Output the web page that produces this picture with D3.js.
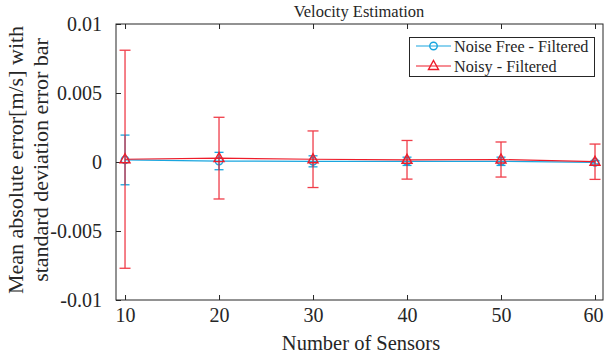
<!DOCTYPE html>
<html>
<head>
<meta charset="utf-8">
<script src="https://cdn.jsdelivr.net/npm/d3@7"></script>
<style>
  html, body { margin: 0; padding: 0; background: #fff; }
  svg text { font-family: "Liberation Serif", "Times New Roman", serif; }
</style>
</head>
<body>
<svg id="chart" width="604" height="358"></svg>
<script>
// Number of sensors on the x axis
const sensors = [10, 20, 30, 40, 50, 60];
// Noise-free, filtered: mean absolute error and standard deviation [m/s]
const noiseFreeMean = [0.00015, 0.00007, 0.00005, 0.00005, 0.00005, -0.00002];
const noiseFreeStd  = [0.0018, 0.00063, 0.0004, 0.0003, 0.0003, 0.00012];
// Noisy, filtered: mean absolute error and standard deviation [m/s]
const noisyMean = [0.0002, 0.00028, 0.0002, 0.00016, 0.00018, 0.00002];
const noisyStd  = [0.0079, 0.00296, 0.00205, 0.0014, 0.00127, 0.00128];
// Axis ticks
const xTicks = [10, 20, 30, 40, 50, 60];
const yTicks = [-0.01, -0.005, 0, 0.005, 0.01];
const yTickLabels = ["-0.01", "-0.005", "0", "0.005", "0.01"];

const blue = "#1aa6df";
const red = "#ee1c2a";
const ink = "#262626";
const serif = "'Liberation Serif', 'Times New Roman', serif";

const svg = d3.select("#chart");
const plotLeft = 116, plotRight = 603, plotTop = 24, plotBottom = 300;

const x = d3.scaleLinear().domain([9.04, 60.85]).range([plotLeft, plotRight]);
const y = d3.scaleLinear().domain([-0.01, 0.01]).range([plotBottom, plotTop]);

// Axis box
svg.append("rect").attr("x", plotLeft).attr("y", plotTop)
  .attr("width", plotRight - plotLeft).attr("height", plotBottom - plotTop)
  .attr("fill", "none").attr("stroke", ink).attr("stroke-width", 1);

// Bottom axis with inward ticks, top mirror ticks
const xAxis = svg.append("g").attr("transform", `translate(0,${plotBottom})`)
  .call(d3.axisBottom(x).tickValues(xTicks).tickSizeInner(-5).tickSizeOuter(0).tickPadding(8));
const xAxisTop = svg.append("g").attr("transform", `translate(0,${plotTop})`)
  .call(d3.axisTop(x).tickValues(xTicks).tickSizeInner(-5).tickSizeOuter(0).tickFormat(""));
const yAxis = svg.append("g").attr("transform", `translate(${plotLeft},0)`)
  .call(d3.axisLeft(y).tickValues(yTicks).tickSizeInner(-5).tickSizeOuter(0).tickPadding(14)
    .tickFormat((d, i) => yTickLabels[i]));
[xAxis, xAxisTop, yAxis].forEach(g => {
  g.attr("font-family", serif).attr("font-size", 20);
  g.select(".domain").remove();
  g.selectAll(".tick line").attr("stroke", ink);
  g.selectAll("text").attr("fill", ink);
});
// Keep the last x tick label inside the frame
xAxis.selectAll(".tick text").filter(d => d === 60).attr("text-anchor", "end").attr("dx", "8");

// Title and axis labels
svg.append("text").attr("x", 359).attr("y", 17)
  .attr("text-anchor", "middle").attr("fill", ink)
  .attr("font-family", serif).attr("font-size", 16.5).text("Velocity Estimation");
svg.append("text").attr("x", 361).attr("y", 350)
  .attr("text-anchor", "middle").attr("fill", ink)
  .attr("font-family", serif).attr("font-size", 20.5).text("Number of Sensors");
const yl = svg.append("text").attr("transform", `translate(23,160) rotate(-90)`)
  .attr("text-anchor", "middle").attr("fill", ink)
  .attr("font-family", serif).attr("font-size", 22);
yl.append("tspan").attr("x", 0).attr("dy", 0).text("Mean absolute error[m/s] with");
yl.append("tspan").attr("x", 0).attr("dy", 25).text("standard deviation error bar");

function drawSeries(means, stds, color, capHalf, marker, barOpacity) {
  const data = sensors.map((s, i) => ({ s, m: means[i], sd: stds[i] }));
  const g = svg.append("g");
  // Connecting line
  g.append("path").datum(data)
    .attr("d", d3.line().x(d => x(d.s)).y(d => y(d.m)))
    .attr("fill", "none").attr("stroke", color).attr("stroke-width", 1.2);
  // Error bars
  const eb = g.selectAll("g.eb").data(data).join("g").attr("class", "eb")
    .attr("stroke", color).attr("stroke-width", 1.3).attr("opacity", barOpacity);
  eb.append("line").attr("x1", d => x(d.s)).attr("x2", d => x(d.s))
    .attr("y1", d => y(d.m + d.sd)).attr("y2", d => y(d.m - d.sd));
  eb.append("line").attr("x1", d => x(d.s) - capHalf).attr("x2", d => x(d.s) + capHalf)
    .attr("y1", d => y(d.m + d.sd)).attr("y2", d => y(d.m + d.sd));
  eb.append("line").attr("x1", d => x(d.s) - capHalf).attr("x2", d => x(d.s) + capHalf)
    .attr("y1", d => y(d.m - d.sd)).attr("y2", d => y(d.m - d.sd));
  // Markers
  g.selectAll("path.mk").data(data).join("path").attr("class", "mk")
    .attr("transform", d => `translate(${x(d.s)},${y(d.m)})`)
    .attr("d", marker).attr("fill", "none").attr("stroke", color).attr("stroke-width", 1.4);
}

const circleMarker = d3.symbol(d3.symbolCircle, 44)();
const triangleMarker = "M0,-5.5L5,3.5L-5,3.5Z";

drawSeries(noiseFreeMean, noiseFreeStd, blue, 4.5, circleMarker, 1);
drawSeries(noisyMean, noisyStd, red, 5.5, triangleMarker, 0.85);

// Legend
const lg = svg.append("g");
lg.append("rect").attr("x", 409.5).attr("y", 37.5).attr("width", 185).attr("height", 39)
  .attr("fill", "#fff").attr("stroke", ink).attr("stroke-width", 1);
const items = [
  { label: "Noise Free - Filtered", color: blue, marker: circleMarker, yy: 46 },
  { label: "Noisy - Filtered", color: red, marker: triangleMarker, yy: 66 }
];
items.forEach(it => {
  lg.append("line").attr("x1", 416).attr("x2", 451).attr("y1", it.yy).attr("y2", it.yy)
    .attr("stroke", it.color).attr("stroke-width", 1.2);
  lg.append("path").attr("transform", `translate(433.5,${it.yy})`).attr("d", it.marker)
    .attr("fill", "none").attr("stroke", it.color).attr("stroke-width", 1.4);
  lg.append("text").attr("x", 454).attr("y", it.yy + 5.5).attr("fill", ink)
    .attr("font-family", serif).attr("font-size", 16.2).text(it.label);
});
</script>
</body>
</html>
